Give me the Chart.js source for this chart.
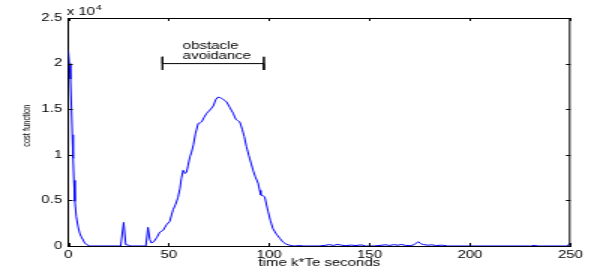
<!DOCTYPE html>
<html>
<head>
<meta charset="utf-8">
<script src="https://cdn.jsdelivr.net/npm/chart.js@4.4.1/dist/chart.umd.min.js"></script>
<style>
  body { margin: 0; background: #fff; }
  #wrap { width: 600px; height: 270px; overflow: hidden; }
  /* the original figure is stretched sideways, so draw narrow and widen it */
  #chart { transform: scaleX(1.5); transform-origin: 0 0; }
</style>
</head>
<body>
<div id="wrap"><canvas id="chart" width="400" height="270"></canvas></div>
<script>
// Time axis (k*Te seconds) and cost function values
var timeSec = [0, 0.5, 1.1, 1.6, 2.0, 2.4, 2.8, 3.3, 4.0, 4.9, 5.7, 6.5, 7.4, 8.2, 9.2, 10.7,
    26.1, 27.6, 28.6, 29.8, 31, 38.6, 39.7, 40.6, 41.4, 42.5, 44, 45.6, 47.2, 48.9, 50.5, 52.2,
    53.3, 54.6, 55.6, 56.3, 57.2, 58.1, 58.9, 59.6, 60.6, 61.4, 62.3, 63.3, 64.7, 65.6, 66.4,
    67.6, 68.9, 70.5, 72.2, 73.3, 74.3, 75.3, 76.3, 77.6, 78.8, 80.4, 82.1, 83.4, 84.3, 85.4,
    86.6, 87.6, 88.7, 89.9, 91.1, 92.0, 93.1, 94.5, 95.3, 95.8, 96.9, 97.8, 98.6, 99.5, 100.6,
    101.9, 103.6, 105.3, 107, 108.6, 110, 111.5, 113, 115, 117, 125, 128, 130, 132, 134, 136,
    138, 141, 143, 146, 148, 152, 155, 158, 160, 162, 164, 166, 168, 170, 172, 174.2, 175.5,
    177, 179, 181, 183, 186, 189, 200, 230, 232, 234, 248.5, 250];
var costValue = [21400, 20000, 18300, 15000, 12200, 9600, 7200, 4900, 3200, 2100, 1400, 1000, 650, 330, 150, 0,
    0, 2590, 150, 100, 0, 0, 2040, 700, 330, 450, 900, 1530, 1710, 2330, 2700, 3980,
    4500, 5300, 6300, 7400, 8300, 7950, 8100, 8800, 9800, 10300, 11100, 12300, 13450, 13500, 13600,
    14100, 14550, 14900, 15350, 16000, 16300, 16300, 16200, 16000, 15800, 15200, 14550, 13900, 13750, 13600,
    12800, 12000, 10900, 9900, 9000, 8300, 7600, 6900, 6100, 5600, 5500, 5400, 4600, 3760, 2800,
    1900, 1300, 850, 400, 200, 100, 30, 0, 60, 0, 0, 80, 150, 60, 170, 90,
    40, 100, 50, 120, 0, 0, 60, 130, 60, 150, 90, 160, 60, 40, 120, 470, 250,
    150, 90, 130, 50, 90, 0, 0, 0, 70, 0, 0, 330];

// "obstacle avoidance" interval marked above the hump
var obstacleStart = 46.9;
var obstacleEnd = 97.4;
var bracketLevel = 20000;
var bracketTop = 20750;
var bracketBottom = 19300;
var annotationLines = ['obstacle', 'avoidance'];
var annotationTime = 57;

var fontFamily = "'Liberation Sans', Arial, Helvetica, sans-serif";

// Box on top/right, inward tick marks, the x 10^4 exponent and the annotation text
var matlabAxes = {
    id: 'matlabAxes',
    afterDraw: function(chart) {
        var ctx = chart.ctx;
        var a = chart.chartArea;
        var x = chart.scales.x;
        var y = chart.scales.y;
        ctx.save();
        ctx.strokeStyle = '#000';
        ctx.lineWidth = 1;
        ctx.beginPath();
        ctx.moveTo(a.left, a.top + 0.5);
        ctx.lineTo(a.right - 0.5, a.top + 0.5);
        ctx.lineTo(a.right - 0.5, a.bottom);
        x.ticks.forEach(function(t) {
            var px = Math.round(x.getPixelForValue(t.value)) + 0.5;
            ctx.moveTo(px, a.bottom);
            ctx.lineTo(px, a.bottom - 3);
            ctx.moveTo(px, a.top);
            ctx.lineTo(px, a.top + 3);
        });
        y.ticks.forEach(function(t) {
            var py = Math.round(y.getPixelForValue(t.value)) + 0.5;
            ctx.moveTo(a.left, py);
            ctx.lineTo(a.left + 3, py);
            ctx.moveTo(a.right, py);
            ctx.lineTo(a.right - 3, py);
        });
        ctx.stroke();

        ctx.fillStyle = '#000';
        ctx.textAlign = 'left';
        ctx.textBaseline = 'alphabetic';
        ctx.font = '10px ' + fontFamily;
        ctx.fillText('x 10', a.left - 1, 14.5);
        var w = ctx.measureText('x 10').width;
        ctx.font = '7px ' + fontFamily;
        ctx.fillText('4', a.left - 1 + w + 0.5, 10);

        ctx.font = '10px ' + fontFamily;
        var tx = x.getPixelForValue(annotationTime);
        var ly = y.getPixelForValue(bracketLevel);
        ctx.fillText(annotationLines[0], tx, ly - 14.5);
        ctx.fillText(annotationLines[1], tx, ly - 5);
        ctx.restore();
    }
};

var curve = timeSec.map(function(t, i) { return {x: t, y: costValue[i]}; });
var bracket = [
    {x: obstacleStart, y: bracketTop}, {x: obstacleStart, y: bracketBottom},
    {x: obstacleStart, y: bracketLevel}, {x: obstacleEnd, y: bracketLevel},
    {x: obstacleEnd, y: bracketTop}, {x: obstacleEnd, y: bracketBottom}
];

var ctx = document.getElementById('chart').getContext('2d');
var myChart = new Chart(ctx, {
    type: 'line',
    data: {
        datasets: [{
            data: curve,
            borderColor: '#0000ff',
            borderWidth: 1,
            pointRadius: 0,
            tension: 0,
            fill: false
        }, {
            data: bracket,
            borderColor: '#000',
            borderWidth: 1,
            pointRadius: 0,
            tension: 0,
            fill: false
        }]
    },
    options: {
        responsive: false,
        animation: false,
        events: [],
        layout: { padding: { left: 0, top: 18, right: 19.7, bottom: 0 } },
        plugins: { legend: { display: false }, tooltip: { enabled: false } },
        scales: {
            x: {
                type: 'linear',
                min: 0,
                max: 250,
                afterFit: function(scale) { scale.height = 24; },
                ticks: { stepSize: 50, color: '#000', padding: 3, maxRotation: 0,
                         font: { family: fontFamily, size: 10 } },
                grid: { display: true, drawOnChartArea: false, drawTicks: false },
                border: { display: true, color: '#000', width: 1 },
                title: { display: true, text: 'time k*Te seconds', color: '#000',
                         padding: { top: 0, bottom: 1 },
                         font: { family: fontFamily, size: 10 } }
            },
            y: {
                min: 0,
                max: 25000,
                afterFit: function(scale) { scale.width = 45.5; },
                ticks: { stepSize: 5000, color: '#000', padding: 4,
                         font: { family: fontFamily, size: 10 },
                         callback: function(v) { return String(v / 10000); } },
                grid: { display: true, drawOnChartArea: false, drawTicks: false },
                border: { display: true, color: '#000', width: 1 },
                // leading spaces lift the rotated label a little, as in the original
                title: { display: true, text: '      cost function', color: '#000',
                         padding: { top: 13, bottom: 0 },
                         font: { family: fontFamily, size: 7.5 } }
            }
        }
    },
    plugins: [matlabAxes]
});
</script>
</body>
</html>
